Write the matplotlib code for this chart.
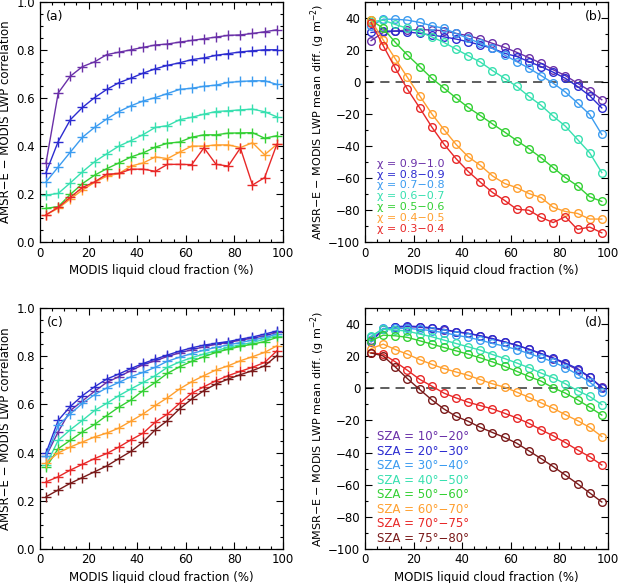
import matplotlib
matplotlib.use("Agg")
import matplotlib.pyplot as plt
from matplotlib.ticker import MultipleLocator

# cloud fraction bin centres (%)
cf = [2.5, 7.5, 12.5, 17.5, 22.5, 27.5, 32.5, 37.5, 42.5, 47.5,
      52.5, 57.5, 62.5, 67.5, 72.5, 77.5, 82.5, 87.5, 92.5, 97.5]

# --- panel (a): correlation by heterogeneity chi ---
chi_labels = ["0.9\u22121.0", "0.8\u22120.9", "0.7\u22120.8", "0.6\u22120.7",
              "0.5\u22120.6", "0.4\u22120.5", "0.3\u22120.4"]
corr_chi = [
    [0.33, 0.62, 0.69, 0.73, 0.75, 0.78, 0.79, 0.80, 0.81, 0.82,
     0.824, 0.832, 0.839, 0.846, 0.853, 0.86, 0.862, 0.868, 0.875, 0.883],
    [0.289, 0.418, 0.509, 0.56, 0.601, 0.635, 0.663, 0.682, 0.703, 0.721,
     0.735, 0.746, 0.759, 0.766, 0.777, 0.784, 0.791, 0.796, 0.80, 0.80],
    [0.25, 0.312, 0.374, 0.436, 0.477, 0.512, 0.543, 0.567, 0.587, 0.601,
     0.618, 0.635, 0.64, 0.648, 0.653, 0.664, 0.668, 0.671, 0.671, 0.656],
    [0.195, 0.202, 0.246, 0.292, 0.334, 0.367, 0.399, 0.422, 0.447, 0.477,
     0.484, 0.509, 0.519, 0.532, 0.543, 0.546, 0.55, 0.553, 0.542, 0.521],
    [0.14, 0.147, 0.198, 0.243, 0.278, 0.305, 0.329, 0.354, 0.371, 0.395,
     0.411, 0.416, 0.436, 0.446, 0.446, 0.453, 0.454, 0.455, 0.432, 0.442],
    [0.113, 0.14, 0.179, 0.216, 0.248, 0.274, 0.285, 0.316, 0.329, 0.354,
     0.347, 0.374, 0.399, 0.399, 0.404, 0.404, 0.393, 0.413, 0.363, 0.406],
    [0.113, 0.144, 0.186, 0.227, 0.25, 0.282, 0.285, 0.303, 0.303, 0.294,
     0.323, 0.323, 0.322, 0.392, 0.323, 0.316, 0.391, 0.237, 0.268, 0.406],
]

# --- panel (b): mean difference by chi (g m-2) ---
diff_chi = [
    [25.7, 30.8, 31.7, 32.3, 32.7, 32.3, 31.9, 30.2, 28.8, 26.7,
     24.0, 21.5, 18.4, 15.1, 11.6, 7.5, 3.9, -0.9, -5.5, -11.2],
    [30.8, 31.7, 31.7, 31.2, 30.2, 29.2, 28.1, 26.7, 25.0, 23.0,
     20.9, 17.8, 15.8, 12.6, 9.5, 6.0, 2.2, -2.9, -8.7, -16.3],
    [35.0, 39.1, 39.1, 38.5, 37.1, 35.0, 33.4, 30.2, 27.1, 24.0,
     20.9, 16.7, 12.6, 8.5, 3.9, -0.9, -6.4, -13.2, -20.4, -32.9],
    [37.5, 38.5, 35.8, 33.4, 31.2, 28.1, 24.6, 20.4, 16.3, 12.3,
     7.0, 2.2, -2.9, -9.1, -14.7, -21.5, -27.7, -36.0, -44.3, -56.7],
    [38.5, 33.4, 24.6, 16.7, 9.5, 2.2, -3.9, -10.1, -16.0, -21.1,
     -26.3, -31.4, -36.7, -41.8, -47.4, -53.6, -59.8, -65.0, -71.8, -74.7],
    [38.5, 26.1, 14.3, 2.7, -8.7, -20.0, -29.8, -39.1, -46.8, -52.2,
     -58.8, -63.5, -66.1, -69.8, -72.3, -78.4, -81.0, -82.2, -85.7, -85.7],
    [37.0, 22.6, 8.5, -4.7, -16.2, -28.2, -38.9, -48.0, -56.0, -62.7,
     -69.1, -74.1, -79.6, -80.2, -84.7, -87.9, -84.2, -92.2, -90.7, -94.3],
]

# --- panel (c): correlation by solar zenith angle ---
sza_labels = ["10\u00b0\u221220\u00b0", "20\u00b0\u221230\u00b0", "30\u00b0\u221240\u00b0",
              "40\u00b0\u221250\u00b0", "50\u00b0\u221260\u00b0", "60\u00b0\u221270\u00b0",
              "70\u00b0\u221275\u00b0", "75\u00b0\u221280\u00b0"]
corr_sza = [
    [0.385, 0.486, 0.575, 0.615, 0.655, 0.692, 0.716, 0.741, 0.766, 0.782,
     0.80, 0.815, 0.828, 0.84, 0.851, 0.858, 0.868, 0.876, 0.886, 0.90],
    [0.398, 0.534, 0.592, 0.637, 0.674, 0.706, 0.727, 0.75, 0.771, 0.789,
     0.806, 0.822, 0.836, 0.847, 0.855, 0.862, 0.872, 0.881, 0.893, 0.906],
    [0.385, 0.513, 0.561, 0.605, 0.641, 0.669, 0.692, 0.716, 0.734, 0.755,
     0.78, 0.797, 0.812, 0.826, 0.838, 0.848, 0.858, 0.868, 0.879, 0.893],
    [0.347, 0.451, 0.495, 0.534, 0.575, 0.605, 0.637, 0.665, 0.692, 0.72,
     0.755, 0.777, 0.795, 0.81, 0.824, 0.838, 0.848, 0.858, 0.872, 0.886],
    [0.338, 0.416, 0.451, 0.486, 0.517, 0.554, 0.589, 0.619, 0.658, 0.692,
     0.73, 0.757, 0.78, 0.799, 0.817, 0.83, 0.842, 0.851, 0.862, 0.879],
    [0.357, 0.398, 0.423, 0.444, 0.465, 0.481, 0.502, 0.531, 0.561, 0.596,
     0.628, 0.665, 0.695, 0.72, 0.744, 0.761, 0.782, 0.799, 0.817, 0.844],
    [0.278, 0.299, 0.327, 0.351, 0.375, 0.396, 0.423, 0.453, 0.481, 0.527,
     0.56, 0.605, 0.647, 0.674, 0.699, 0.72, 0.738, 0.755, 0.775, 0.823],
    [0.216, 0.244, 0.272, 0.296, 0.32, 0.344, 0.375, 0.405, 0.444, 0.495,
     0.533, 0.582, 0.623, 0.658, 0.685, 0.706, 0.724, 0.741, 0.761, 0.803],
]

# --- panel (d): mean difference by solar zenith angle ---
diff_sza = [
    [30.2, 36.9, 38.2, 38.6, 38.2, 37.5, 36.5, 35.4, 34.4, 32.9,
     30.8, 29.1, 27.0, 24.5, 21.8, 18.7, 15.5, 11.7, 7.1, 0.8],
    [29.1, 36.9, 38.6, 39.0, 38.6, 37.9, 36.9, 35.4, 34.4, 32.9,
     31.2, 29.1, 27.0, 24.5, 21.8, 19.1, 15.9, 12.4, 7.1, 0.4],
    [32.3, 37.5, 37.5, 37.5, 36.9, 36.1, 34.8, 33.3, 31.9, 30.2,
     28.1, 26.4, 24.3, 21.8, 19.3, 16.6, 13.0, 8.8, 4.0, -2.3],
    [32.7, 36.9, 36.5, 35.8, 34.0, 32.3, 30.2, 28.1, 26.0, 23.9,
     21.2, 18.7, 15.9, 13.0, 9.6, 6.7, 2.9, -1.3, -5.0, -10.1],
    [29.8, 33.3, 32.9, 31.9, 29.8, 27.7, 25.6, 23.5, 21.4, 19.1,
     16.6, 13.8, 10.7, 7.5, 4.6, 0.4, -2.9, -7.1, -11.7, -16.6],
    [24.9, 27.7, 24.3, 21.4, 18.0, 15.1, 12.4, 10.3, 8.2, 5.5,
     2.9, 0.8, -2.3, -5.5, -9.0, -12.4, -16.4, -20.1, -24.3, -30.0],
    [22.2, 21.4, 16.6, 11.3, 5.7, 1.5, -2.9, -5.9, -8.6, -10.7,
     -12.8, -15.5, -18.4, -21.8, -25.8, -29.6, -33.8, -38.4, -42.6, -47.8],
    [22.2, 20.3, 13.4, 6.1, -0.6, -7.1, -12.8, -17.4, -20.5, -24.3,
     -27.5, -30.6, -34.2, -39.0, -43.8, -48.8, -54.1, -59.5, -65.2, -70.9],
]

colors_chi = ['#6a30a8', '#2c2cd0', '#3c9cf0', '#38e0b0', '#34d034', '#ffa030', '#e82828']
colors_sza = ['#6a30a8', '#2c2cd0', '#3c9cf0', '#38e0b0', '#34d034', '#ffa030', '#e82828', '#7a1a1a']

plt.rcParams['font.family'] = 'DejaVu Sans'
plt.rcParams['font.size'] = 8.5

fig = plt.figure(figsize=(6.18, 5.83), dpi=100)
ax_a = fig.add_axes([0.0647, 0.585, 0.393, 0.412])
ax_b = fig.add_axes([0.5906, 0.585, 0.393, 0.412])
ax_c = fig.add_axes([0.0647, 0.059, 0.393, 0.412])
ax_d = fig.add_axes([0.5906, 0.059, 0.393, 0.412])

xlab = "MODIS liquid cloud fraction (%)"
ylab_corr = "AMSR\u2212E \u2212 MODIS LWP correlation"
ylab_diff = "AMSR\u2212E \u2212 MODIS LWP mean diff. (g m$^{-2}$)"


def style(ax, corr):
    ax.set_xlim(0, 100)
    ax.xaxis.set_major_locator(MultipleLocator(20))
    ax.xaxis.set_minor_locator(MultipleLocator(5))
    if corr:
        ax.set_ylim(0, 1)
        ax.yaxis.set_major_locator(MultipleLocator(0.2))
        ax.yaxis.set_minor_locator(MultipleLocator(0.05))
        ax.yaxis.set_major_formatter(plt.FuncFormatter(lambda v, p: "%.1f" % v))
        ax.set_ylabel(ylab_corr, labelpad=3)
    else:
        ax.set_ylim(-100, 50)
        ax.yaxis.set_major_locator(MultipleLocator(20))
        ax.yaxis.set_minor_locator(MultipleLocator(10))
        ax.yaxis.set_major_formatter(plt.FuncFormatter(lambda v, p: "%d" % v if v >= 0 else "\u2212%d" % -v))
        ax.set_ylabel(ylab_diff, labelpad=1, fontsize=8)
        ax.axhline(0, color='#333333', lw=1.1, ls=(0, (6, 4)), zorder=1)
    ax.set_xlabel(xlab, labelpad=3)
    ax.tick_params(which='both', direction='in', top=True, right=True)
    ax.tick_params(which='major', length=5, width=0.8)
    ax.tick_params(which='minor', length=2.5, width=0.8)
    for s in ax.spines.values():
        s.set_linewidth(0.9)


# (a)
for vals, c in zip(corr_chi, colors_chi):
    ax_a.plot(cf, vals, color=c, lw=1, marker='+', ms=7, mew=1)
style(ax_a, True)
ax_a.text(0.062, 0.94, "(a)", transform=ax_a.transAxes, ha='center', va='center', fontsize=9)

# (b)
for vals, c in zip(diff_chi, colors_chi):
    ax_b.plot(cf, vals, color=c, lw=1, marker='o', ms=5.5, mfc='none', mew=1)
style(ax_b, False)
ax_b.text(0.94, 0.94, "(b)", transform=ax_b.transAxes, ha='center', va='center', fontsize=9)
for i, (lab, c) in enumerate(zip(chi_labels, colors_chi)):
    ax_b.text(0.05, 0.326 - i * 0.0455, "\u03c7 = " + lab, color=c,
              transform=ax_b.transAxes, ha='left', va='center', fontsize=8)

# (c)
for vals, c in zip(corr_sza, colors_sza):
    ax_c.plot(cf, vals, color=c, lw=1, marker='+', ms=7, mew=1)
style(ax_c, True)
ax_c.text(0.062, 0.94, "(c)", transform=ax_c.transAxes, ha='center', va='center', fontsize=9)

# (d)
for vals, c in zip(diff_sza, colors_sza):
    ax_d.plot(cf, vals, color=c, lw=1, marker='o', ms=5.5, mfc='none', mew=1)
style(ax_d, False)
ax_d.text(0.94, 0.94, "(d)", transform=ax_d.transAxes, ha='center', va='center', fontsize=9)
for i, (lab, c) in enumerate(zip(sza_labels, colors_sza)):
    ax_d.text(0.05, 0.4655 - i * 0.0604, "SZA = " + lab, color=c,
              transform=ax_d.transAxes, ha='left', va='center', fontsize=8.5)

fig.savefig("out.png", dpi=100)
